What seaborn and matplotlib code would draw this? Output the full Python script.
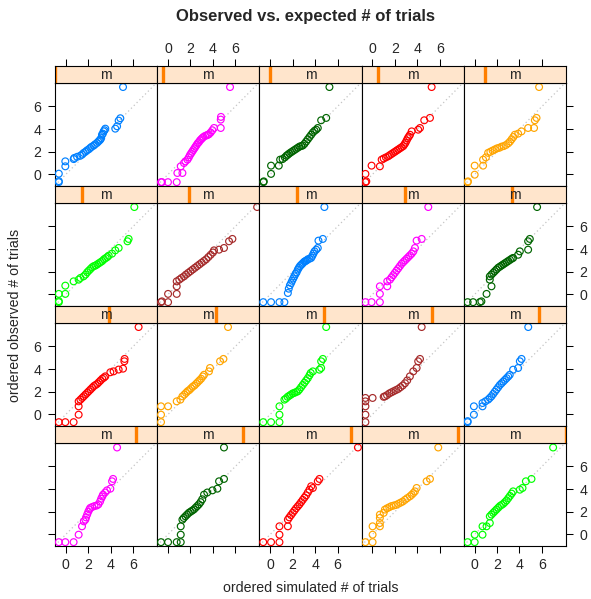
import matplotlib
matplotlib.use("Agg")
import matplotlib.pyplot as plt
import seaborn as sns

sns.set_style("white")
plt.rcParams['font.family'] = ['Liberation Sans', 'DejaVu Sans']

title = "Observed vs. expected # of trials"
xlabel = "ordered simulated # of trials"
ylabel = "ordered observed # of trials"
strip_label = "m"
ticks = [0, 2, 4, 6]
colors = ["#0080FF", "#FF00FF", "#006400", "#FF0000", "#FFA500", "#00FF00", "#A52A2A"]

# (simulated, observed) pairs per panel
p01 = [(-0.63,-0.69),(-0.63,-0.6),(-0.63,0.06),(-0.05,0.71),(-0.05,1.15),(0.7,1.35),(0.75,1.45),(1.0,1.55),(1.29,1.65),(1.45,1.75),(1.58,1.89),(1.75,2.0),(1.89,2.12),(2.05,2.22),(2.18,2.34),(2.3,2.44),(2.48,2.54),(2.6,2.65),(2.78,2.78),(2.9,2.9),(3.0,3.0),(3.07,3.07),(3.15,3.2),(3.22,3.5),(3.3,3.6),(3.37,3.8),(3.45,3.9),(3.52,4.04),(4.41,4.04),(4.57,4.25),(4.71,4.75),(4.86,4.96),(5.1,7.72)]
p02 = [(-0.63,-0.69),(-0.55,-0.69),(-0.01,-0.69),(0.77,-0.69),(0.83,0.12),(1.28,0.12),(1.13,0.71),(1.42,1.0),(1.55,1.15),(1.73,1.3),(1.85,1.5),(1.95,1.7),(2.05,1.85),(2.15,2.0),(2.25,2.15),(2.35,2.3),(2.45,2.45),(2.55,2.6),(2.65,2.75),(2.75,2.85),(2.85,3.0),(2.95,3.1),(3.05,3.2),(3.15,3.3),(3.3,3.4),(3.45,3.45),(3.55,3.5),(3.65,3.55),(3.8,3.7),(3.95,3.9),(4.1,4.1),(4.7,4.1),(4.7,4.84),(4.72,5.08),(5.53,7.72)]
p03 = [(-0.61,-0.69),(-0.58,-0.62),(0.07,0.04),(0.07,0.77),(0.76,0.77),(0.88,1.3),(1.1,1.35),(1.3,1.5),(1.45,1.65),(1.57,1.74),(1.7,1.85),(1.85,1.95),(2.0,2.05),(2.15,2.15),(2.3,2.25),(2.45,2.35),(2.6,2.45),(2.75,2.5),(2.9,2.55),(3.05,2.7),(3.2,2.9),(3.35,3.1),(3.5,3.3),(3.65,3.5),(3.8,3.7),(3.95,3.85),(4.1,3.95),(4.24,4.1),(4.54,4.78),(4.99,4.99),(5.28,7.72)]
p04 = [(-0.63,-0.69),(-0.55,-0.62),(-0.63,0.04),(-0.08,0.77),(0.66,0.71),(0.82,1.3),(1.0,1.4),(1.2,1.5),(1.41,1.6),(1.55,1.7),(1.7,1.8),(1.85,1.9),(2.0,2.0),(2.15,2.1),(2.3,2.2),(2.45,2.3),(2.6,2.4),(2.75,2.5),(2.85,2.65),(2.95,2.8),(3.05,3.0),(3.15,3.2),(3.25,3.35),(3.35,3.5),(3.5,3.8),(4.08,3.95),(4.24,4.1),(4.62,4.78),(5.13,4.99),(5.28,7.72)]
p05 = [(-0.63,-0.69),(-0.6,-0.62),(0.0,-0.03),(0.0,0.77),(0.75,0.77),(0.75,1.3),(1.0,1.5),(1.2,1.9),(1.4,2.0),(1.6,2.1),(1.8,2.2),(2.0,2.3),(2.2,2.35),(2.4,2.45),(2.6,2.5),(2.8,2.6),(3.0,2.75),(3.15,2.9),(3.3,3.1),(3.45,3.3),(3.58,3.5),(3.88,3.6),(4.18,3.8),(4.77,4.1),(5.3,4.1),(5.37,4.78),(5.52,4.99),(5.75,7.72)]
p06 = [(-0.63,-0.69),(-0.63,-0.6),(-0.63,0.04),(-0.05,0.04),(-0.05,0.77),(0.69,1.15),(1.14,1.3),(1.3,1.45),(1.58,1.59),(1.75,1.75),(1.9,1.95),(2.05,2.1),(2.2,2.25),(2.35,2.4),(2.5,2.5),(2.65,2.55),(2.8,2.65),(2.95,2.75),(3.1,2.85),(3.25,2.95),(3.4,3.1),(3.55,3.2),(3.7,3.3),(3.82,3.42),(4.12,3.6),(4.41,3.89),(4.71,4.1),(5.5,4.69),(5.6,4.9),(6.11,7.72)]
p07 = [(-0.63,-0.69),(-0.55,-0.62),(0.0,-0.69),(0.0,0.04),(0.77,0.04),(0.77,0.71),(0.77,1.15),(1.0,1.3),(1.2,1.45),(1.42,1.59),(1.6,1.75),(1.8,1.9),(2.0,2.05),(2.2,2.2),(2.4,2.35),(2.6,2.5),(2.8,2.65),(3.0,2.8),(3.2,2.95),(3.4,3.1),(3.6,3.3),(3.8,3.5),(4.0,3.7),(4.1,3.89),(4.55,3.95),(4.99,4.1),(5.44,4.69),(5.74,4.9),(7.95,7.72)]
p08 = [(-0.63,-0.69),(0.07,-0.69),(0.82,-0.69),(1.26,-0.69),(1.57,0.12),(1.65,0.5),(1.75,0.8),(1.86,1.0),(1.95,1.2),(2.05,1.4),(2.15,1.6),(2.25,1.8),(2.35,1.95),(2.46,2.19),(2.55,2.35),(2.65,2.5),(2.75,2.6),(2.85,2.7),(2.95,2.8),(3.05,2.9),(3.15,2.95),(3.25,3.0),(3.35,3.1),(3.5,3.15),(3.65,3.22),(3.75,3.4),(3.85,3.6),(3.95,3.8),(4.1,3.95),(4.24,4.1),(4.3,4.75),(4.69,4.9),(4.83,7.72)]
p09 = [(-0.63,-0.69),(-0.08,-0.69),(0.66,-0.69),(0.66,0.04),(0.66,0.71),(1.32,0.71),(1.32,1.15),(1.56,1.3),(1.7,1.5),(1.85,1.7),(2.0,1.9),(2.15,2.1),(2.3,2.3),(2.45,2.5),(2.6,2.7),(2.75,2.85),(2.9,3.0),(3.05,3.15),(3.2,3.3),(3.35,3.45),(3.5,3.6),(3.65,3.8),(3.79,4.1),(3.94,4.75),(4.39,4.9),(4.98,7.72)]
p10 = [(-0.63,-0.69),(-0.14,-0.69),(0.46,-0.69),(0.6,-0.62),(1.06,0.04),(1.5,0.71),(1.35,1.3),(1.35,1.59),(1.5,1.75),(1.65,1.9),(1.8,2.05),(1.95,2.2),(2.1,2.35),(2.25,2.45),(2.4,2.55),(2.55,2.65),(2.7,2.75),(2.85,2.85),(3.0,2.95),(3.15,3.05),(3.3,3.15),(3.43,3.22),(3.88,3.5),(4.03,3.8),(4.77,3.95),(4.77,4.69),(4.92,4.9),(5.57,7.72)]
p11 = [(-0.63,-0.69),(-0.05,-0.69),(0.69,-0.69),(1.14,-0.03),(1.14,0.71),(1.14,1.15),(1.3,1.3),(1.45,1.45),(1.6,1.6),(1.75,1.75),(1.9,1.9),(2.05,2.05),(2.2,2.2),(2.35,2.35),(2.5,2.5),(2.65,2.6),(2.8,2.7),(2.95,2.85),(3.1,3.0),(3.25,3.15),(3.4,3.25),(3.52,3.36),(3.97,3.72),(4.26,3.8),(4.71,3.96),(5.1,4.04),(5.22,4.69),(5.24,4.9),(6.49,7.72)]
p12 = [(-0.63,-0.69),(-0.63,-0.03),(-0.63,0.71),(0.0,0.71),(0.77,1.15),(1.1,1.3),(1.28,1.59),(1.45,1.75),(1.6,1.9),(1.75,2.05),(1.9,2.15),(2.05,2.3),(2.2,2.45),(2.35,2.55),(2.5,2.7),(2.65,2.85),(2.8,3.0),(2.95,3.15),(3.1,3.35),(3.21,3.5),(3.65,3.8),(3.74,4.1),(4.64,4.69),(4.94,4.9),(5.35,7.72)]
p13 = [(-0.63,-0.69),(0.07,-0.69),(0.82,-0.69),(0.82,-0.03),(0.82,0.71),(1.26,1.3),(1.4,1.4),(1.55,1.55),(1.7,1.65),(1.85,1.75),(2.0,1.85),(2.15,1.9),(2.3,1.97),(2.46,2.04),(2.6,2.2),(2.75,2.4),(2.9,2.6),(3.05,2.8),(3.2,3.0),(3.35,3.2),(3.5,3.45),(3.61,3.66),(3.8,3.8),(4.39,3.95),(4.54,4.1),(4.54,4.69),(4.69,4.9),(4.99,7.72)]
p14 = [(-0.63,-0.69),(-0.63,-0.03),(-0.63,0.71),(-0.63,1.15),(-0.63,1.45),(0.01,1.45),(1.0,1.55),(1.11,1.59),(1.3,1.7),(1.5,1.85),(1.7,1.95),(1.9,2.05),(2.1,2.15),(2.3,2.25),(2.5,2.4),(2.7,2.55),(2.9,2.75),(3.1,3.0),(3.34,3.36),(3.64,3.8),(3.94,4.1),(4.08,4.69),(4.24,4.9),(4.39,7.72)]
p15 = [(-0.63,-0.69),(-0.63,-0.6),(-0.07,-0.03),(-0.07,0.71),(0.7,0.71),(0.7,1.0),(0.95,1.15),(1.2,1.3),(1.35,1.45),(1.5,1.6),(1.65,1.8),(1.8,2.0),(1.95,2.2),(2.1,2.4),(2.25,2.6),(2.4,2.75),(2.55,2.9),(2.7,3.05),(2.85,3.2),(3.0,3.35),(3.13,3.5),(3.43,3.95),(3.88,4.1),(4.03,4.69),(4.18,4.9),(4.78,7.72)]
p16 = [(-0.63,-0.69),(-0.05,-0.69),(0.69,-0.69),(1.14,-0.03),(1.44,0.71),(1.6,1.15),(1.74,1.3),(1.8,1.5),(1.9,1.75),(2.0,2.0),(2.1,2.2),(2.18,2.34),(2.35,2.42),(2.55,2.5),(2.75,2.55),(2.9,2.65),(3.05,2.9),(3.15,3.15),(3.25,3.35),(3.32,3.51),(3.5,3.7),(3.67,3.89),(3.97,4.04),(4.12,4.69),(4.21,4.9),(4.57,7.68)]
p17 = [(-0.63,-0.69),(0.0,-0.69),(0.77,-0.69),(1.13,-0.69),(1.13,-0.03),(1.13,0.71),(1.28,1.3),(1.4,1.45),(1.55,1.6),(1.7,1.75),(1.85,1.9),(2.0,2.0),(2.15,2.1),(2.3,2.2),(2.45,2.35),(2.6,2.5),(2.75,2.65),(2.9,2.85),(3.05,3.1),(3.21,3.51),(3.5,3.7),(3.96,3.89),(4.4,4.04),(4.55,4.69),(4.99,4.9),(4.99,7.68)]
p18 = [(-0.63,-0.69),(0.07,-0.69),(0.82,-0.69),(0.82,-0.03),(0.82,0.71),(1.57,0.71),(1.57,1.3),(1.7,1.5),(1.85,1.7),(2.0,1.9),(2.15,2.1),(2.3,2.3),(2.46,2.48),(2.6,2.65),(2.75,2.85),(2.9,3.05),(3.05,3.25),(3.2,3.45),(3.35,3.7),(3.5,3.95),(3.65,4.25),(3.8,4.1),(4.24,4.69),(4.39,4.9),(7.82,7.68)]
p19 = [(-0.63,-0.69),(0.01,-0.69),(0.01,-0.03),(0.01,0.71),(0.66,0.71),(0.66,1.0),(0.66,1.45),(0.66,1.74),(1.0,1.9),(1.11,2.19),(1.3,2.3),(1.5,2.4),(1.7,2.5),(1.9,2.55),(2.1,2.6),(2.3,2.7),(2.5,2.8),(2.7,2.9),(2.9,3.05),(3.1,3.2),(3.34,3.36),(3.5,3.5),(3.65,3.65),(3.79,3.8),(3.94,4.1),(4.83,4.69),(5.13,4.9),(5.87,7.68)]
p20 = [(-0.63,-0.69),(0.0,-0.69),(0.0,-0.03),(0.7,-0.03),(0.7,0.71),(1.06,0.71),(1.35,1.0),(1.35,1.59),(1.5,1.75),(1.65,1.9),(1.8,2.05),(1.95,2.2),(2.1,2.35),(2.25,2.5),(2.4,2.6),(2.55,2.7),(2.7,2.85),(2.85,3.0),(3.0,3.2),(3.15,3.4),(3.3,3.6),(3.43,3.8),(4.03,3.95),(4.27,4.1),(4.57,4.69),(5.07,4.9),(7.0,7.68)]

panels = [p01, p02, p03, p04, p05, p06, p07, p08, p09, p10,
          p11, p12, p13, p14, p15, p16, p17, p18, p19, p20]

W, H = 591, 599
fig = plt.figure(figsize=(W / 100, H / 100), dpi=100)

def rect(x, y, w, h):
    return [x / W, 1 - (y + h) / H, w / W, h / H]

col_left = [55.0, 157.2, 259.4, 361.6, 463.8]
pw, ph, sh = 102.2, 102.7, 17.6
xlim = (-0.97, 8.15)
ylim = (-1.03, 8.05)
fs = 10.2
n = len(panels)

for k, pts in enumerate(panels):
    row, col = divmod(k, 5)
    ptop = 83.3 + 120 * row
    ax = fig.add_axes(rect(col_left[col], ptop, pw, ph))
    sax = fig.add_axes(rect(col_left[col], ptop - sh, pw, sh))

    xs = [p[0] for p in pts]
    ys = [p[1] for p in pts]
    ax.axline((0, 0), slope=1, color="#c4c4c4", lw=0.9, ls=(0, (1, 2.2)), zorder=1)
    sns.scatterplot(x=xs, y=ys, ax=ax, marker="o", s=24, fc="none",
                    ec=colors[k % len(colors)], linewidth=0.85, zorder=3)
    ax.set_xlim(xlim)
    ax.set_ylim(ylim)
    ax.set_xticks(ticks)
    ax.set_yticks(ticks)
    ax.set_xlabel("")
    ax.set_ylabel("")
    ax.set_facecolor("white")
    for s in ax.spines.values():
        s.set_color("black")
        s.set_linewidth(0.8)
    ax.tick_params(axis="x", direction="out", length=4.7, width=0.75, color="black",
                   labelsize=fs, pad=3.6, top=False, labeltop=False,
                   bottom=(row == 3), labelbottom=(row == 3 and col % 2 == 0))
    ax.tick_params(axis="y", direction="out", length=4.7, width=0.75, color="black",
                   labelsize=fs, pad=5.0,
                   left=(col == 0), labelleft=(col == 0 and row % 2 == 0),
                   right=(col == 4), labelright=(col == 4 and row % 2 == 1))

    # strip
    sax.set_facecolor("#FFE5CC")
    sax.set_xlim(xlim)
    sax.set_ylim(0, 1)
    sax.set_yticks([])
    sax.set_xticks(ticks)
    for s in sax.spines.values():
        s.set_color("black")
        s.set_linewidth(0.8)
    sax.tick_params(axis="x", direction="out", length=4.7, width=0.75, color="black",
                    labelsize=fs, pad=2.6, bottom=False, labelbottom=False,
                    top=(row == 0), labeltop=(row == 0 and col % 2 == 1))
    frac = k / (n - 1)
    sax.plot([frac, frac], [0, 1], transform=sax.transAxes, color="#FF7F00",
             lw=2.4, solid_capstyle="butt", zorder=2)
    sax.text(0.5, 0.45, strip_label, transform=sax.transAxes, ha="center",
             va="center", fontsize=fs, zorder=3)

fig.text(305 / W, 1 - 16.5 / H, title, ha="center", va="center",
         fontsize=12, fontweight="bold")
fig.text(310.5 / W, 1 - 588 / H, xlabel, ha="center", va="center", fontsize=fs)
fig.text(15.5 / W, 1 - 315 / H, ylabel, ha="center", va="center", fontsize=fs,
         rotation=90)

fig.savefig("out.png", dpi=100)
